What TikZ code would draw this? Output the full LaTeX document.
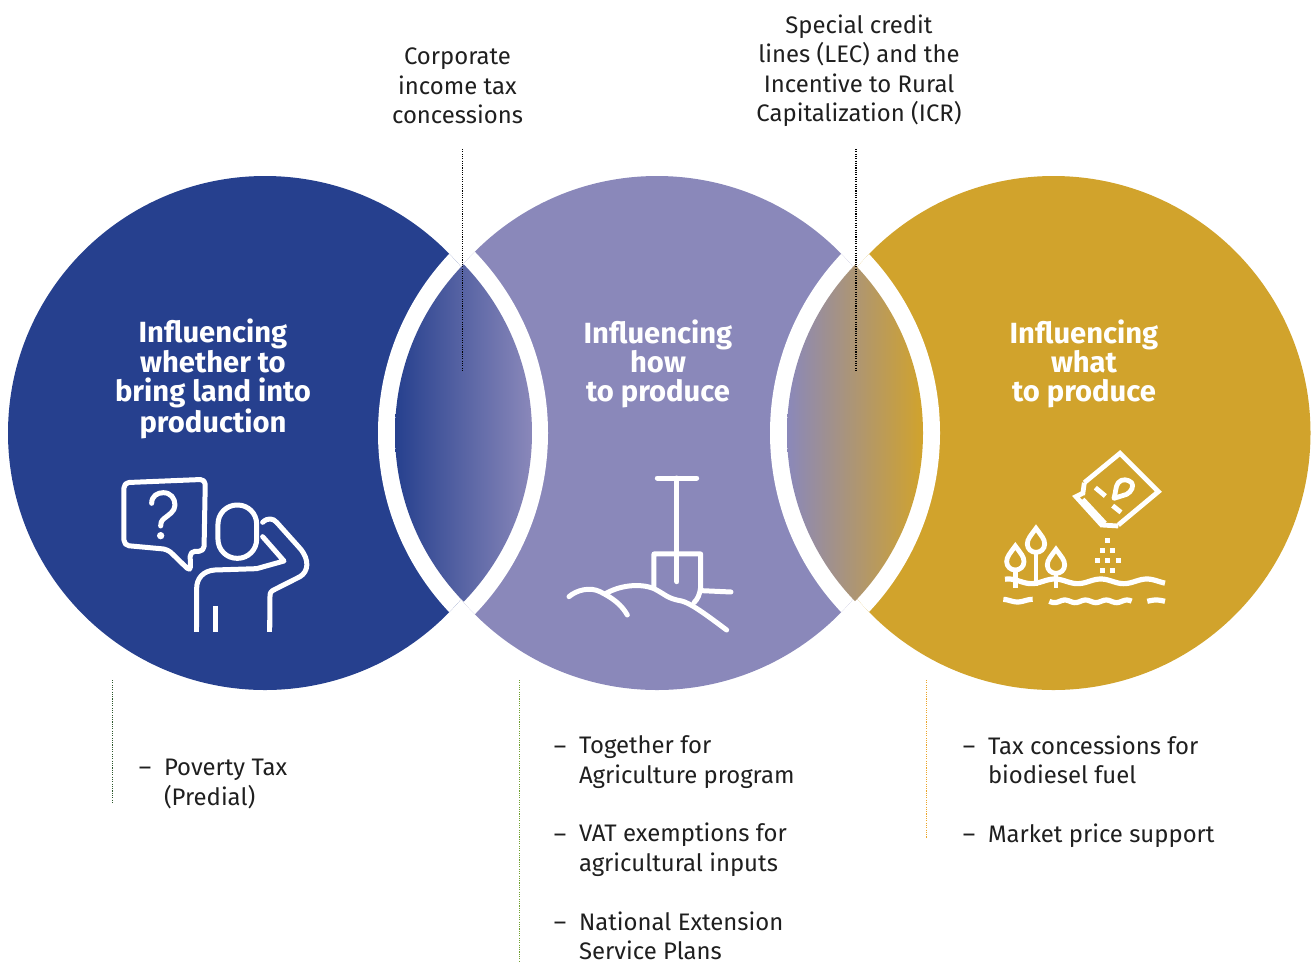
\documentclass[tikz,border=0pt]{standalone}
\usepackage{fontspec}
\setmainfont{Fira Sans}
\definecolor{cblue}{HTML}{26408E}
\definecolor{cpurple}{HTML}{8A88BA}
\definecolor{cgold}{HTML}{D1A32C}
\definecolor{lgreen}{HTML}{6FA02E}
\definecolor{dgreen}{HTML}{2F5A2F}
\definecolor{lorange}{HTML}{EBA52A}
\tikzset{
  txt/.style={inner sep=0pt,outer sep=0pt,text=black!88,font=\fontsize{23.9}{29.5}\selectfont},
  ctxt/.style={txt,align=center},
  ltxt/.style={txt,align=left,anchor=west},
  head/.style={inner sep=0pt,outer sep=0pt,text=white,align=center,font=\fontsize{29.2}{29.3}\selectfont\bfseries},
  leader/.style={line width=1.4pt,dash pattern=on 1.1pt off 1.2pt},
  icon/.style={draw=white,line width=5pt,line cap=round,line join=round},
  seedicon/.style={icon,line cap=butt,line join=miter,line width=4.8pt},
  zoomed/.style={x=0.3333pt,y=-0.3333pt}
}
\begin{document}
\begin{tikzpicture}[x=1pt,y=-1pt]
\useasboundingbox (0,0) rectangle (1315,962);
% circles
\begin{scope}
  \clip (265,433) circle[radius=257];
  \fill[cblue] (0,170) rectangle (530,700);
  \fill[white] (639,433) circle[radius=261];
\end{scope}
\begin{scope}
  \clip (657,433) circle[radius=257];
  \fill[cpurple] (390,170) rectangle (920,700);
  \fill[white] (287,433) circle[radius=261];
  \fill[white] (1031,433) circle[radius=261];
\end{scope}
\begin{scope}
  \clip (1053.5,433) circle[radius=257];
  \fill[cgold] (790,170) rectangle (1315,700);
  \fill[white] (679,433) circle[radius=261];
\end{scope}
% lenses
\begin{scope}
  \clip (636.5,433) circle[radius=241.5];
  \clip (289.5,433) circle[radius=242.5];
  \shade[left color=cblue,right color=cpurple] (395,250) rectangle (532,620);
\end{scope}
\begin{scope}
  \clip (1029,433) circle[radius=242];
  \clip (681,433) circle[radius=242];
  \shade[left color=cpurple,right color=cgold] (787,250) rectangle (923,620);
\end{scope}
% leaders
\coordinate (l1a) at (462.7,149); \coordinate (l1b) at (462.7,372);
\coordinate (l2a) at (855.8,149); \coordinate (l2b) at (855.8,372);
\coordinate (l3a) at (112.7,680); \coordinate (l3b) at (112.7,803);
\coordinate (l4a) at (519.7,680); \coordinate (l4b) at (519.7,962);
\coordinate (l5a) at (926.7,680); \coordinate (l5b) at (926.7,838);
\draw[leader,black] (l1a) -- (l1b);
\draw[leader,black] (l2a) -- (l2b);
\draw[leader,dgreen] (l3a) -- (l3b);
\draw[leader,lgreen] (l4a) -- (l4b);
\draw[leader,lorange] (l5a) -- (l5b);
% top labels
\node[ctxt] (t1) at (457.5,86) {Corporate\\income tax\\concessions};
\node[ctxt] (t2) at (859,70.5) {Special credit\\lines (LEC) and the\\Incentive to Rural\\Capitalization (ICR)};
% headings
\node[head] (h1) at (213,379) {Influencing\\whether to\\bring land into\\production};
\node[head] (h2) at (658,363.8) {Influencing\\how\\to produce};
\node[head] (h3) at (1084,363.8) {Influencing\\what\\to produce};
% lists
\node[txt] (d1) at (145,771) {–};
\node[ltxt] (a1) at (164,784) {Poverty Tax\\(Predial)};
\node[txt] (d2) at (560,750) {–};
\node[ltxt] (a2) at (579,762) {Together for\\Agriculture program};
\node[txt] (d3) at (560,838) {–};
\node[ltxt] (a3) at (579,849.5) {VAT exemptions for\\agricultural inputs};
\node[txt] (d4) at (560,926) {–};
\node[ltxt] (a4) at (579,936) {National Extension\\Service Plans};
\node[txt] (d5) at (969,750) {–};
\node[ltxt] (a5) at (988,760) {Tax concessions for\\biodiesel fuel};
\node[txt] (d6) at (969,838) {–};
\node[ltxt] (a6) at (988,836) {Market price support};
% person icon
\begin{scope}[shift={(100,460)},zoomed]
  \draw[icon,rounded corners=5pt] (272,335) -- (203,268) -- (72,256) -- (72,68) -- (316,58) -- (312,274) -- (270,274) -- cycle;
  \draw[icon] (155,130) .. controls (155,108) and (172,98) .. (190,98) .. controls (212,98) and (225,115) .. (225,135) .. controls (225,155) and (205,165) .. (193,175) .. controls (183,183) and (182,190) .. (182,198);
  \fill[white] (182,227) circle[radius=11];
  \draw[icon,rounded corners=19pt] (354,135) rectangle (470,295);
  \draw[icon] (488,230) -- (552,303) -- (470,326) -- (345,330) .. controls (310,332) and (290,355) .. (290,385) -- (290,500);
  \draw[icon,line cap=butt] (290,440) -- (290,515);
  \draw[icon] (488,187) .. controls (503,172) and (520,175) .. (530,187) -- (600,265) .. controls (630,300) and (625,335) .. (600,350) -- (525,388) .. controls (512,394) and (510,398) .. (510,410) -- (510,500);
  \draw[icon,line cap=butt] (510,480) -- (510,515);
  \draw[icon,line cap=butt,line width=5.5pt] (347,438) -- (347,515);
\end{scope}
% shovel icon
\begin{scope}[shift={(550,460)},zoomed]
  \draw[icon] (322,54) -- (440,54);
  \draw[icon] (381,54) -- (381,365);
  \draw[icon] (312,385) -- (312,282) -- (452,282) -- (452,380) .. controls (450,405) and (442,418) .. (432,428);
  \draw[icon] (57,410) .. controls (80,390) and (120,380) .. (150,395) .. controls (190,415) and (215,435) .. (232,465);
  \draw[icon] (165,402) .. controls (210,375) and (270,370) .. (310,385) .. controls (350,405) and (350,415) .. (395,423) .. controls (420,430) and (450,450) .. (530,510);
  \draw[icon] (455,392) -- (543,396);
\end{scope}
% seed icon
\begin{scope}[shift={(990,440)},zoomed]
  \draw[seedicon] (283,128) -- (390,40) -- (505,155) -- (385,255);
  \draw[seedicon] (283,128) -- (278,165);
  \draw[seedicon] (278,160) -- (258,170) -- (335,255) -- (385,258);
  \draw[seedicon] (278,178) -- (345,250);
  \draw[seedicon] (316,143) -- (346,168);
  \draw[seedicon] (368,197) -- (393,217);
  \draw[seedicon,line join=round] (372,175) .. controls (378,155) and (376,140) .. (385,128) .. controls (395,115) and (415,118) .. (425,128) .. controls (432,138) and (425,155) .. (410,163) -- cycle;
  \foreach \px/\py in {354/301,339/331,369/331,323/361,354/361,385/361,339/392,369/392}
    \fill[white] (\px-7.5,\py-7.5) rectangle (\px+7.5,\py+7.5);
  \draw[seedicon] (76,318) .. controls (60,340) and (50,350) .. (50,365) .. controls (50,380) and (62,390) .. (76,390) .. controls (90,390) and (102,380) .. (102,365) .. controls (102,350) and (92,340) .. (76,318) -- cycle;
  \draw[seedicon] (76,390) -- (76,445);
  \draw[seedicon] (138,265) .. controls (122,287) and (112,297) .. (112,312) .. controls (112,327) and (124,337) .. (138,337) .. controls (152,337) and (164,327) .. (164,312) .. controls (164,297) and (154,287) .. (138,265) -- cycle;
  \draw[seedicon] (138,337) -- (138,438);
  \draw[seedicon] (198,328) .. controls (182,350) and (172,360) .. (172,375) .. controls (172,390) and (184,400) .. (198,400) .. controls (212,400) and (224,390) .. (224,375) .. controls (224,360) and (214,350) .. (198,328) -- cycle;
  \draw[seedicon] (198,400) -- (198,445);
  \draw[seedicon,line width=5.2pt] plot[domain=45:525,samples=70,smooth] (\x,{424+7*sin((\x-90)*2.6)});
  \draw[seedicon,line width=5.2pt] plot[domain=40:128,samples=16,smooth] (\x,{482+4*sin((\x-60)*4)});
  \draw[seedicon,line width=5.2pt] plot[domain=178:425,samples=40,smooth] (\x,{484+4*sin((\x-178)*5.8)});
  \draw[seedicon,line width=5.2pt] plot[domain=472:525,samples=10,smooth] (\x,{484-4*sin((\x-472)*3.4)});
\end{scope}
\end{tikzpicture}
\end{document}
